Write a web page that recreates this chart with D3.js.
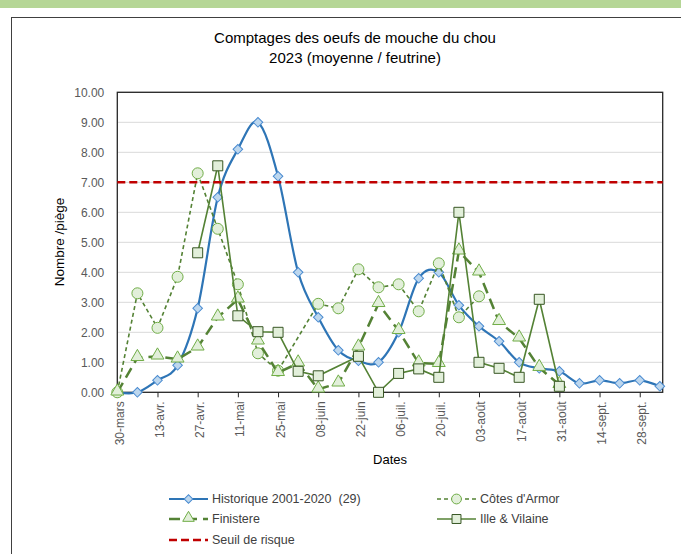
<!DOCTYPE html>
<html>
<head>
<meta charset="utf-8">
<script src="https://cdn.jsdelivr.net/npm/d3@7"></script>
<style>
  body { margin: 0; background: #fff; font-family: "Liberation Sans", Arial, sans-serif; }
  svg { display: block; }
</style>
</head>
<body>
<script>
(function(){

//weekly sampling dates (2023)
var dates = ["2023-03-30","2023-04-06","2023-04-13","2023-04-20","2023-04-27","2023-05-04","2023-05-11",
             "2023-05-18","2023-05-25","2023-06-01","2023-06-08","2023-06-15","2023-06-22","2023-06-29",
             "2023-07-06","2023-07-13","2023-07-20","2023-07-27","2023-08-03","2023-08-10","2023-08-17",
             "2023-08-24","2023-08-31","2023-09-07","2023-09-14","2023-09-21","2023-09-28","2023-10-05"];

//series values (null = no count)
var historique = [0, 0, 0.4, 0.9, 2.8, 6.5, 8.1, 9.0, 7.2, 4.0, 2.5, 1.4, 1.05, 1.0,
                  2.0, 3.8, 4.0, 2.9, 2.2, 1.7, 1.0, 0.8, 0.7, 0.3, 0.4, 0.3, 0.4, 0.2];
var cotesArmor = [0, 3.3, 2.15, 3.85, 7.3, 5.45, 3.6, 1.3, 0.72, null, 2.95, 2.8, 4.1, 3.5,
                  3.6, 2.7, 4.3, 2.5, 3.2, null, null, null, null, null, null, null, null, null];
var finistere  = [0, 1.15, 1.2, 1.1, 1.5, 2.5, 3.1, 1.7, 0.65, 0.97, 0.1, 0.3, 1.5, 2.95,
                  2.05, 0.97, 0.95, 4.7, 4.0, 2.35, 1.8, 0.82, 0.25, null, null, null, null, null];
var illeVilaine = [null, null, null, null, 4.65, 7.55, 2.55, 2.02, 2.0, 0.7, 0.55, null, 1.2, 0,
                  0.63, 0.78, 0.5, 6.0, 1.0, 0.8, 0.5, 3.1, 0.2, null, null, null, null, null];
var seuil = 7;

//x axis range and tick labels (every 14 days)
var xDomain = ["2023-03-30", "2023-10-06"];
var tickLabels = ["30-mars","13-avr.","27-avr.","11-mai","25-mai","08-juin","22-juin",
                  "06-juil.","20-juil.","03-août","17-août","31-août","14-sept.","28-sept."];
var yTicks = [0,1,2,3,4,5,6,7,8,9,10];

var width = 681, height = 554;
var green = "#548235", lightGreen = "#e2efda", blue = "#2e75b6";

var parse = d3.timeParse("%Y-%m-%d");
var dateObjs = dates.map(parse);

var svg = d3.select("body").append("svg")
    .attr("width", width)
    .attr("height", height);

//top band + chart frame
svg.append("rect").attr("x", 0).attr("y", 0).attr("width", width).attr("height", 8)
    .attr("fill", "#b5d696");
svg.append("rect").attr("x", 11.5).attr("y", 17.5).attr("width", 700).attr("height", 600)
    .attr("fill", "none").attr("stroke", "#404040").attr("stroke-width", 1);

var x = d3.scaleTime()
    .domain(xDomain.map(parse))
    .range([117.3, 662.7]);
var y = d3.scaleLinear()
    .domain([0, 10])
    .range([392.3, 92.3]);

//gridlines
svg.selectAll(".grid")
    .data(yTicks.slice(1))
    .enter()
    .append("line")
    .attr("x1", x.range()[0]).attr("x2", x.range()[1])
    .attr("y1", function(d){ return y(d); })
    .attr("y2", function(d){ return y(d); })
    .attr("stroke", "#d9d9d9").attr("stroke-width", 1);

//y axis labels
var yAxis = d3.axisLeft(y).tickValues(yTicks).tickSize(0).tickPadding(13)
    .tickFormat(d3.format(".2f"));
var gy = svg.append("g").attr("transform", "translate(" + x.range()[0] + ",0)").call(yAxis);
gy.select(".domain").remove();
gy.selectAll("text").attr("fill", "#595959").style("font-size", "12px")
    .style("font-family", "Liberation Sans, Arial, sans-serif");

//x axis
var tickDates = dateObjs.filter(function(d, i){ return i % 2 == 0; });
var xAxis = d3.axisBottom(x).tickValues(tickDates).tickSize(5).tickSizeOuter(0)
    .tickFormat(function(d, i){ return tickLabels[i]; });
var gx = svg.append("g").attr("transform", "translate(0," + y(0) + ")").call(xAxis);
gx.select(".domain").remove();
gx.selectAll(".tick line").attr("stroke", "#262626");
gx.selectAll("text")
    .attr("fill", "#595959").style("font-size", "12px")
    .style("font-family", "Liberation Sans, Arial, sans-serif")
    .attr("text-anchor", "end")
    .attr("transform", "rotate(-90)")
    .attr("x", -9).attr("y", 0).attr("dy", "0.5em");

//plot frame
svg.append("rect")
    .attr("x", x.range()[0]).attr("y", y(10))
    .attr("width", x.range()[1] - x.range()[0]).attr("height", y(0) - y(10))
    .attr("fill", "none").attr("stroke", "#262626").attr("stroke-width", 1.3);

//build point lists, skipping missing values
function points(vals){
    var pts = [];
    vals.forEach(function(v, i){
        if (v !== null) pts.push({date: dateObjs[i], value: v});
    });
    return pts;
};

var lineStraight = d3.line()
    .x(function(d){ return x(d.date); })
    .y(function(d){ return y(d.value); });
var lineSmooth = d3.line()
    .x(function(d){ return x(d.date); })
    .y(function(d){ return y(d.value); })
    .curve(d3.curveCardinal.tension(0));

//marker shapes: excel diamond is a square turned 45 degrees
var series = [
    {name: "Historique 2001-2020  (29)", vals: historique, line: lineSmooth, color: blue, width: 2.2,
     dash: null, shape: d3.symbolSquare, rot: 45, size: 46, fill: "#bdd7ee", mstroke: "#4a8bd0"},
    {name: "Côtes d'Armor", vals: cotesArmor, line: lineStraight, color: green, width: 1.6,
     dash: "4,3", shape: d3.symbolCircle, rot: 0, size: 95, fill: lightGreen, mstroke: "#70ad47"},
    {name: "Finistere", vals: finistere, line: lineStraight, color: green, width: 2.5,
     dash: "11,6", shape: d3.symbolTriangle, rot: 0, size: 72, fill: lightGreen, mstroke: "#70ad47"},
    {name: "Ille & Vilaine", vals: illeVilaine, line: lineStraight, color: green, width: 1.6,
     dash: null, shape: d3.symbolSquare, rot: 0, size: 100, fill: lightGreen, mstroke: "#375623"}
];

function markerTransform(s, px, py){
    var dy = s.shape === d3.symbolTriangle ? -1 : 0;
    return "translate(" + px + "," + (py + dy) + ") rotate(" + s.rot + ")";
};

series.forEach(function(s){
    var pts = points(s.vals);
    svg.append("path")
        .datum(pts)
        .attr("d", s.line)
        .attr("fill", "none")
        .attr("stroke", s.color)
        .attr("stroke-width", s.width)
        .attr("stroke-dasharray", s.dash);
    svg.selectAll(null)
        .data(pts)
        .enter()
        .append("path")
        .attr("d", d3.symbol().type(s.shape).size(s.size))
        .attr("transform", function(d){ return markerTransform(s, x(d.date), y(d.value)); })
        .attr("fill", s.fill)
        .attr("stroke", s.mstroke)
        .attr("stroke-width", 1);
});

//risk threshold
svg.append("line")
    .attr("x1", x.range()[0]).attr("x2", x.range()[1])
    .attr("y1", y(seuil)).attr("y2", y(seuil))
    .attr("stroke", "#c00000").attr("stroke-width", 2.5)
    .attr("stroke-dasharray", "8,4");

//titles
var title = svg.append("text")
    .attr("x", 355).attr("y", 43)
    .attr("text-anchor", "middle")
    .style("font-size", "15px").attr("fill", "#000");
title.append("tspan").attr("x", 355).text("Comptages des oeufs de mouche du chou");
title.append("tspan").attr("x", 355).attr("dy", 20).text("2023 (moyenne / feutrine)");

svg.append("text")
    .attr("transform", "translate(64,242) rotate(-90)")
    .attr("text-anchor", "middle")
    .style("font-size", "13.5px").attr("fill", "#000")
    .text("Nombre /piège");

svg.append("text")
    .attr("x", 390).attr("y", 464)
    .attr("text-anchor", "middle")
    .style("font-size", "13px").attr("fill", "#000")
    .text("Dates");

//legend
var legendItems = [
    {s: series[0], x: 169, y: 499},
    {s: series[1], x: 437, y: 499},
    {s: series[2], x: 169, y: 519},
    {s: series[3], x: 437, y: 519}
];
legendItems.forEach(function(item){
    var s = item.s;
    svg.append("line")
        .attr("x1", item.x).attr("x2", item.x + 39)
        .attr("y1", item.y).attr("y2", item.y)
        .attr("stroke", s.color).attr("stroke-width", s.width)
        .attr("stroke-dasharray", s.dash);
    svg.append("path")
        .attr("d", d3.symbol().type(s.shape).size(s.size * 0.8))
        .attr("transform", markerTransform(s, item.x + 19.5, item.y))
        .attr("fill", s.fill).attr("stroke", s.mstroke).attr("stroke-width", 1);
    svg.append("text")
        .attr("x", item.x + 43).attr("y", item.y).attr("dy", "0.35em")
        .style("font-size", "12.5px").style("white-space", "pre").attr("fill", "#404040")
        .text(s.name);
});
svg.append("line")
    .attr("x1", 169).attr("x2", 208).attr("y1", 540).attr("y2", 540)
    .attr("stroke", "#c00000").attr("stroke-width", 2.5).attr("stroke-dasharray", "8,4");
svg.append("text")
    .attr("x", 212).attr("y", 540).attr("dy", "0.35em")
    .style("font-size", "12.5px").attr("fill", "#404040")
    .text("Seuil de risque");

})();
</script>
</body>
</html>
